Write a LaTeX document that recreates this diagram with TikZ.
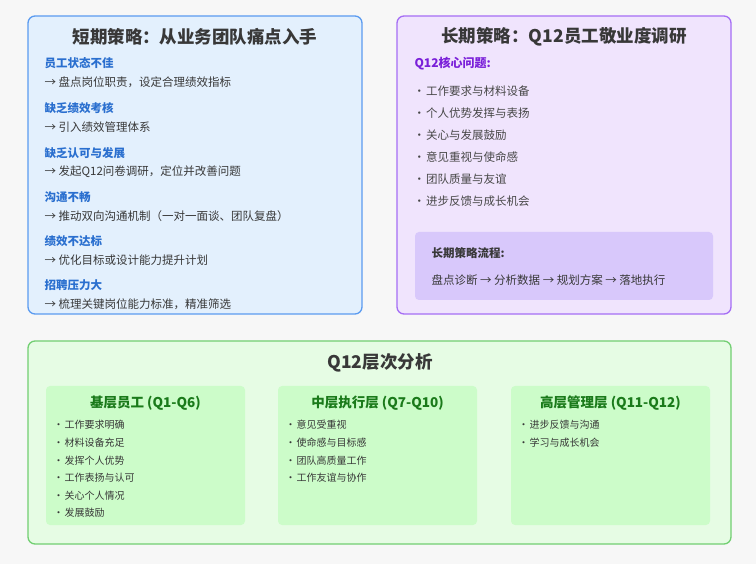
\documentclass[tikz,border=0pt]{standalone}
\usepackage{fontspec}
\setmainfont{Noto Sans CJK SC}
\begin{document}
\begin{tikzpicture}[x=1pt,y=-1pt,
  box/.style={draw,line width=1.3pt,rounded corners=7pt},
  inner/.style={rounded corners=4pt},
  ttl/.style={font=\bfseries\fontsize{17.5}{20}\selectfont,text=black!78},
  hd/.style={anchor=west,font=\bfseries\fontsize{11.5}{13}\selectfont,text=blue1},
  ds/.style={anchor=west,font=\fontsize{11.5}{13}\selectfont,text=black!78},
  bl/.style={anchor=west,font=\fontsize{11.5}{13}\selectfont,text=black!72},
  sb/.style={anchor=west,font=\fontsize{10}{11}\selectfont,text=black!78},
  st/.style={font=\bfseries\fontsize{13.5}{15}\selectfont,text=green1}]
\definecolor{blue1}{HTML}{2A6FCF}
\definecolor{green1}{HTML}{1A7A1A}
\definecolor{lfill}{HTML}{E3F0FD}
\definecolor{lbord}{HTML}{5B9BF0}
\definecolor{rfill}{HTML}{F0E4FD}
\definecolor{rbord}{HTML}{A56EF5}
\definecolor{rin}{HTML}{D8C8FB}
\definecolor{purp}{HTML}{7A1FD9}
\definecolor{gfill}{HTML}{E6FCE4}
\definecolor{gbord}{HTML}{72CF72}
\definecolor{gin}{HTML}{CCFCC9}
\fill[white!97!black] (0,0) rectangle (756,564);
\useasboundingbox (0,0) rectangle (756,564);
% left
\draw[box,draw=lbord,fill=lfill] (28,16) rectangle (362,314);
\node[ttl] (lt) at (195,37) {短期策略：从业务团队痛点入手};
\foreach \h/\d/\y [count=\i] in {员工状态不佳/盘点岗位职责，设定合理绩效指标/63,缺乏绩效考核/引入绩效管理体系/108,缺乏认可与发展/发起Q12问卷调研，定位并改善问题/153,沟通不畅/推动双向沟通机制（一对一面谈、团队复盘）/197,绩效不达标/优化目标或设计能力提升计划/241,招聘压力大/梳理关键岗位能力标准，精准筛选/285}{
  \node[hd] (h\i) at (41,\y) {\h};
  \node[ds] (d\i) at (41,\y+19) {→ \d};
}
% right
\draw[box,draw=rbord,fill=rfill] (397,16) rectangle (731,314);
\node[ttl] (rt) at (564,37) {长期策略：Q12员工敬业度调研};
\node[anchor=west,font=\bfseries\fontsize{12}{14}\selectfont,text=purp] (q) at (411,64) {Q12核心问题:};
\foreach \t/\y [count=\i] in {工作要求与材料设备/91,个人优势发挥与表扬/113,关心与发展鼓励/135,意见重视与使命感/157,团队质量与友谊/179,进步反馈与成长机会/201}{
  \node[bl] (b\i) at (410,\y) {•\kern1pt\t};
}
\fill[inner,fill=rin] (415,232) rectangle (713,300);
\node[anchor=west,font=\bfseries\fontsize{11.5}{13}\selectfont,text=black!78] (fl) at (428,253) {长期策略流程:};
\node[ds] (fw) at (428,280) {盘点诊断 → 分析数据 → 规划方案 → 落地执行};
% bottom
\draw[box,draw=gbord,fill=gfill] (28,341) rectangle (731,544);
\node[ttl] (bt) at (380,363) {Q12层次分析};
\foreach \x/\t [count=\k] in {46/基层员工 (Q1-Q6),278/中层执行层 (Q7-Q10),511/高层管理层 (Q11-Q12)}{
  \fill[inner,fill=gin] (\x,386) rectangle (\x+199,525);
  \node[st] (s\k) at (\x+99.5,403) {\t};
}
\foreach \t/\y [count=\i] in {工作要求明确/425,材料设备充足/443,发挥个人优势/461,工作表扬与认可/478,关心个人情况/496,发展鼓励/513}{
  \node[sb] (p\i) at (50,\y) {•\kern1pt\t};
}
\foreach \t/\y [count=\i] in {意见受重视/425,使命感与目标感/443,团队高质量工作/461,工作友谊与协作/478}{
  \node[sb] (m\i) at (282,\y) {•\kern1pt\t};
}
\foreach \t/\y [count=\i] in {进步反馈与沟通/425,学习与成长机会/443}{
  \node[sb] (g\i) at (515,\y) {•\kern1pt\t};
}
\end{tikzpicture}
\end{document}
